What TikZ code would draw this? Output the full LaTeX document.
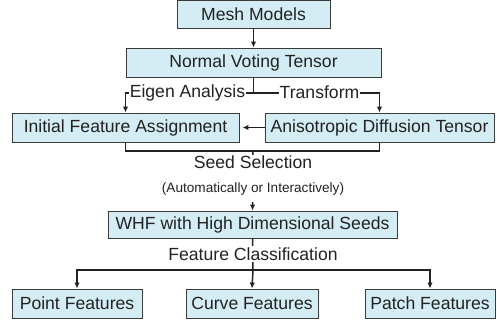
\documentclass[tikz,border=0pt]{standalone}
\usepackage{fontspec}
\setmainfont{Liberation Sans}
\usetikzlibrary{arrows.meta}
\definecolor{boxfill}{HTML}{D4ECF3}
\definecolor{boxline}{HTML}{3A3A3A}
\definecolor{ink}{HTML}{222222}
\begin{document}
\begin{tikzpicture}[x=1pt,y=-1pt,
  stage/.style={draw=boxline,line width=0.9pt,fill=boxfill,inner sep=0pt,
    text=ink,font=\fontsize{17.6}{20}\selectfont,anchor=center},
  conn/.style={draw=ink,line width=1.5pt},
  arr/.style={conn,-{Latex[length=6pt,width=5.5pt]}},
  lab/.style={fill=white,inner xsep=1pt,inner ysep=1pt,text=ink,
    font=\fontsize{17.6}{20}\selectfont},
  note/.style={fill=white,inner xsep=1pt,inner ysep=1pt,text=ink,
    text height=22pt,text depth=9pt,anchor=base,
    font=\fontsize{13.6}{16}\selectfont}]
\useasboundingbox (0,0) rectangle (497,327);

% process stages
\node[stage,minimum width=153pt,minimum height=28pt] (mesh) at (253.5,14.5) {Mesh Models};
\node[stage,minimum width=255pt,minimum height=29pt] (nvt) at (253.5,62.5) {Normal Voting Tensor};
\node[stage,minimum width=227pt,minimum height=29pt] (ifa) at (125.5,127.5) {Initial Feature Assignment};
\node[stage,minimum width=229pt,minimum height=29pt] (adt) at (379.5,127.5) {Anisotropic Diffusion Tensor};
\node[stage,minimum width=289pt,minimum height=27pt] (whf) at (252.5,224.5) {WHF with High Dimensional Seeds};
\node[stage,minimum width=130pt,minimum height=29pt] (pf) at (77,303.5) {Point Features};
\node[stage,minimum width=132pt,minimum height=29pt] (cf) at (252,303.5) {Curve Features};
\node[stage,minimum width=130pt,minimum height=29pt] (ptf) at (430,303.5) {Patch Features};

% branching points
\coordinate (fork) at (253.5,93);
\coordinate (seed) at (253,151);
\coordinate (split) at (253,270);

% connectors
\draw[arr] (mesh) -- (nvt);
\draw[conn] (nvt.south) -- (fork);
\draw[arr] (fork) -| (ifa.north);
\draw[arr] (fork) -| (adt.north);
\draw[arr,shorten >=3pt] (adt.west) -- (ifa.east);
\draw[conn] (ifa.south) |- (seed);
\draw[conn] (adt.south) |- (seed);
\draw[arr] (seed) -- (whf.north);
\draw[conn] (whf.south) -- (split);
\draw[arr] (split) -- (cf.north);
\draw[arr] (split) -| (pf.north);
\draw[arr] (split) -| (ptf.north);

% connector labels
\node[lab] at (187.5,92.5) {Eigen Analysis};
\node[lab] at (319.5,92.5) {Transform};
\node[note] at (253,192) {(Automatically or Interactively)};
\node[lab] at (253,162.5) {Seed Selection};
\node[lab,inner ysep=2pt] at (253,254) {Feature Classification};
\end{tikzpicture}
\end{document}
